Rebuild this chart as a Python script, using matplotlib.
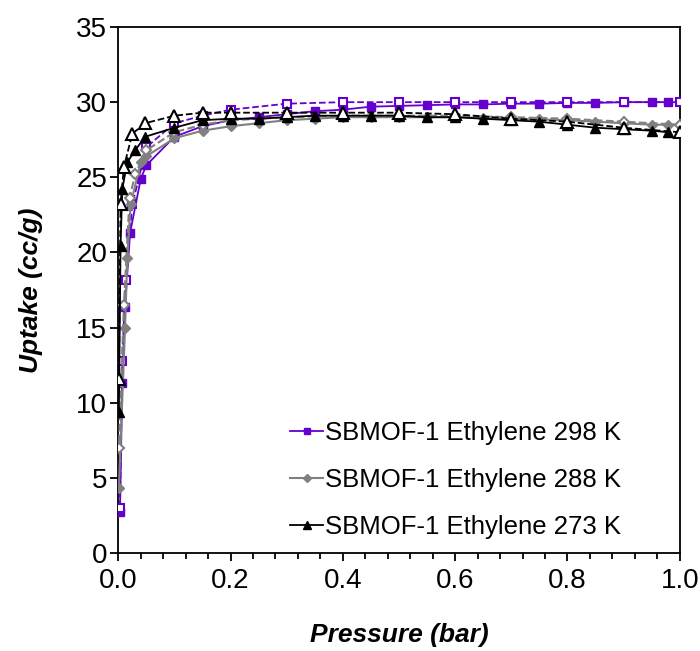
import matplotlib
matplotlib.use("Agg")
import matplotlib.pyplot as plt
from matplotlib.ticker import MultipleLocator

plt.rcParams['font.family'] = ['Liberation Sans', 'DejaVu Sans']

# 298 K adsorption / desorption
p298_ads = [0.003, 0.007, 0.012, 0.021, 0.04, 0.05, 0.1, 0.15, 0.2, 0.25, 0.3, 0.35, 0.4,
            0.45, 0.5, 0.55, 0.6, 0.65, 0.7, 0.75, 0.8, 0.85, 0.9, 0.95, 0.98]
u298_ads = [2.7, 11.3, 16.4, 21.3, 24.9, 25.8, 27.7, 28.4, 28.8, 29.0, 29.2, 29.4, 29.5,
            29.7, 29.75, 29.8, 29.85, 29.85, 29.9, 29.9, 29.95, 29.95, 30.0, 30.0, 30.0]
p298_des = [1.0, 0.9, 0.8, 0.7, 0.6, 0.5, 0.4, 0.3, 0.2, 0.15, 0.1, 0.05, 0.025, 0.013, 0.007, 0.003]
u298_des = [30.0, 30.0, 30.0, 30.0, 30.0, 30.0, 30.0, 29.9, 29.5, 29.1, 28.6, 27.0, 23.2, 18.2, 12.8, 3.0]

# 288 K
p288_ads = [0.001, 0.012, 0.016, 0.022, 0.04, 0.05, 0.1, 0.15, 0.2, 0.25, 0.3, 0.35, 0.4,
            0.45, 0.5, 0.55, 0.6, 0.65, 0.7, 0.75, 0.8, 0.85, 0.9, 0.95, 0.98]
u288_ads = [4.3, 15.0, 19.6, 23.2, 26.0, 26.4, 27.6, 28.1, 28.4, 28.6, 28.8, 28.9, 29.0,
            29.0, 29.0, 29.0, 29.0, 28.95, 28.9, 28.85, 28.8, 28.7, 28.6, 28.5, 28.5]
p288_des = [1.0, 0.9, 0.8, 0.7, 0.6, 0.5, 0.4, 0.3, 0.2, 0.15, 0.1, 0.05, 0.03, 0.02, 0.01, 0.001]
u288_des = [28.5, 28.7, 28.9, 29.0, 29.1, 29.1, 29.1, 29.0, 28.8, 28.5, 28.0, 26.8, 25.2, 23.6, 16.5, 7.0]

# 273 K
p273_ads = [0.001, 0.004, 0.007, 0.016, 0.03, 0.048, 0.1, 0.15, 0.2, 0.25, 0.3, 0.35, 0.4,
            0.45, 0.5, 0.55, 0.6, 0.65, 0.7, 0.75, 0.8, 0.85, 0.9, 0.95, 0.98]
u273_ads = [9.4, 20.4, 24.2, 26.0, 26.8, 27.7, 28.3, 28.8, 28.9, 28.9, 29.0, 29.1, 29.1,
            29.1, 29.1, 29.0, 29.0, 28.9, 28.8, 28.7, 28.5, 28.3, 28.2, 28.1, 28.0]
p273_des = [1.0, 0.9, 0.8, 0.7, 0.6, 0.5, 0.4, 0.3, 0.2, 0.15, 0.1, 0.048, 0.025, 0.01, 0.004, 0.001]
u273_des = [28.0, 28.3, 28.7, 28.9, 29.2, 29.3, 29.3, 29.3, 29.3, 29.3, 29.1, 28.6, 27.9, 25.7, 23.2, 11.6]

purple = '#6600CC'
gray = '#808080'

fig = plt.figure(figsize=(7, 6.51), dpi=100)
ax = fig.add_axes([0.169, 0.1505, 0.802, 0.808])

ms = 6
ax.plot(p298_ads, u298_ads, '-', color=purple, marker='s', ms=ms, lw=1.3,
        mfc=purple, mec=purple, label='SBMOF-1 Ethylene 298 K', zorder=3)
ax.plot(p298_des, u298_des, '--', color=purple, marker='s', ms=ms, lw=1.3,
        mfc='white', mec=purple, mew=1.5, zorder=3)
ax.plot(p288_ads, u288_ads, '-', color=gray, marker='D', ms=ms - 0.5, lw=1.5,
        mfc=gray, mec=gray, label='SBMOF-1 Ethylene 288 K', zorder=4)
ax.plot(p288_des, u288_des, '--', color=gray, marker='D', ms=ms - 0.5, lw=1.5,
        mfc='white', mec=gray, mew=1.5, zorder=4)
ax.plot(p273_ads, u273_ads, '-', color='black', marker='^', ms=ms + 1, lw=1.3,
        mfc='black', mec='black', label='SBMOF-1 Ethylene 273 K', zorder=5)
ax.plot(p273_des, u273_des, '--', color='black', marker='^', ms=ms + 3, lw=1.3,
        mfc='white', mec='black', mew=1.5, zorder=5)

ax.set_xlim(0, 1.0)
ax.set_ylim(0, 35)
ax.xaxis.set_major_locator(MultipleLocator(0.2))
ax.xaxis.set_minor_locator(MultipleLocator(0.04))
ax.yaxis.set_major_locator(MultipleLocator(5))
ax.xaxis.set_major_formatter(plt.FuncFormatter(lambda v, pos: '%.1f' % v))
ax.tick_params(which='major', direction='out', length=6, width=1.3, labelsize=20)
ax.tick_params(which='minor', direction='out', length=4, width=1.3)
ax.tick_params(axis='x', which='both', top=False, pad=5)
ax.tick_params(axis='y', which='both', right=False, pad=2)
for s in ax.spines.values():
    s.set_linewidth(1.3)

ax.set_xlabel('Pressure (bar)', fontsize=19, fontweight='bold', style='italic')
ax.set_ylabel('Uptake (cc/g)', fontsize=19, fontweight='bold', style='italic')
ax.xaxis.set_label_coords(0.5, -0.133)
ax.yaxis.set_label_coords(-0.135, 0.5)

leg = ax.legend(loc='lower right', fontsize=18.5, frameon=False, handlelength=1.3,
                handletextpad=0.05, labelspacing=0.9, markerscale=0.8,
                borderaxespad=0.15, bbox_to_anchor=(0.92, 0.0))

fig.savefig('out.png', dpi=100)
